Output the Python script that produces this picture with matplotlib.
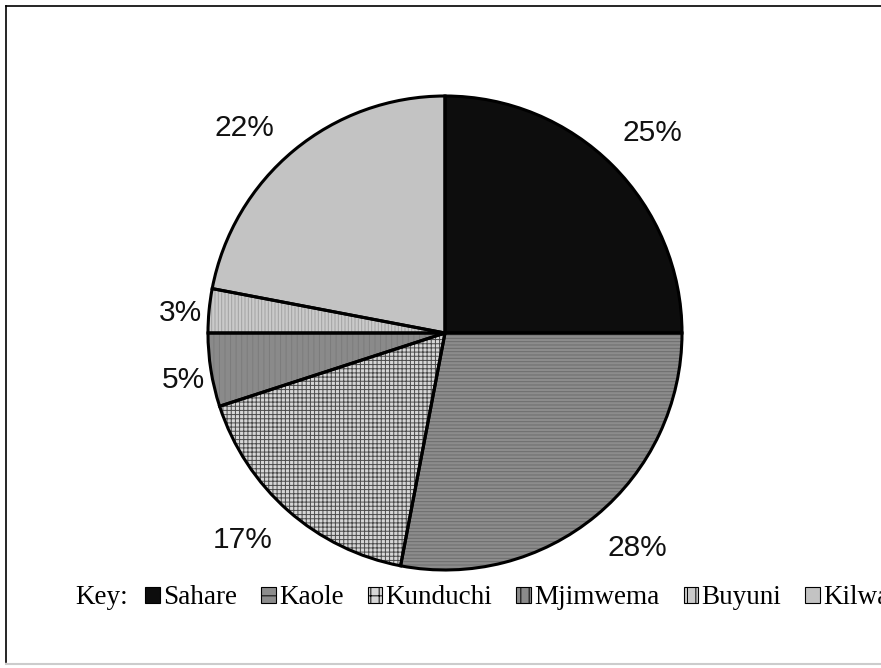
import matplotlib
matplotlib.use("Agg")
import matplotlib.pyplot as plt
from matplotlib.patches import Patch
from matplotlib.lines import Line2D
import numpy as np

categories = ["Sahare", "Kaole", "Kunduchi", "Mjimwema", "Buyuni", "Kilwa"]
values = [25, 28, 17, 5, 3, 22]
labels = ["25%", "28%", "17%", "5%", "3%", "22%"]

faces = ["#0d0d0d", "#8c8c8c", "#d6d6d6", "#8a8a8a", "#cacaca", "#c3c3c3"]
hatches = ["", "-----", "++++", "|||", "|||||", ""]
hatch_cols = ["#0d0d0d", "#6c6c6c", "#4a4a4a", "#7c7c7c", "#a2a2a2", "#c3c3c3"]
label_dist = [1.214, 1.216, 1.22, 1.12, 1.12, 1.21]
label_nudge_deg = [-1.0, 2.2, -3.0, 1.2, 1.1, 4.7]

W, H = 881, 668
fig = plt.figure(figsize=(W / 100, H / 100), dpi=100)
ax = fig.add_axes([0, 0, 1, 1])
plt.rcParams["hatch.linewidth"] = 0.7

cx, cy, R = 445, 335, 237

# filled + hatched layer (hatch colour comes from edgecolor, edge width 0)
wedges, _ = ax.pie(values, startangle=90, counterclock=False,
                   center=(cx, cy), radius=R, colors=faces,
                   wedgeprops=dict(linewidth=0))
for w, h, hc in zip(wedges, hatches, hatch_cols):
    w.set_hatch(h)
    w.set_edgecolor(hc)
    w.set_linewidth(0)

# outline layer
outl, _ = ax.pie(values, startangle=90, counterclock=False,
                 center=(cx, cy), radius=R,
                 wedgeprops=dict(fill=False, edgecolor="black", linewidth=2.2))

for w, lab, d, nd in zip(wedges, labels, label_dist, label_nudge_deg):
    th = np.deg2rad((w.theta1 + w.theta2) / 2 + nd)
    ax.text(cx + d * R * np.cos(th), cy + d * R * np.sin(th), lab,
            ha="center", va="center", fontsize=21.5,
            family="Liberation Sans", color="#111111")

ax.set_xlim(0, W)
ax.set_ylim(0, H)
ax.set_aspect("equal")
ax.axis("off")

# page border
fig.add_artist(Line2D([6 / W, 6 / W], [1 - 6 / H, 1 - 662 / H],
                      transform=fig.transFigure, color="black", lw=1.2))
fig.add_artist(Line2D([6 / W, 1], [1 - 6 / H, 1 - 6 / H],
                      transform=fig.transFigure, color="black", lw=1.2))
fig.add_artist(Line2D([6 / W, 1], [1 - 664 / H, 1 - 664 / H],
                      transform=fig.transFigure, color="#cccccc", lw=1.5))

# legend
fig.text(75 / W, 1 - 598 / H, "Key:", ha="left", va="center",
         fontsize=19.5, family="Liberation Serif")
handles = [Patch(facecolor=f, edgecolor="black", hatch=("" if h == "" else h[:2]),
                 linewidth=0.8)
           for f, h in zip(faces, hatches)]
fig.legend(handles, categories, loc="center left",
           bbox_to_anchor=(145 / W, 1 - 598 / H), ncol=6, frameon=False,
           borderpad=0, borderaxespad=0, handlelength=0.55, handleheight=0.55,
           handletextpad=0.12, columnspacing=0.88,
           prop=dict(family="Liberation Serif", size=19.5))

fig.savefig("out.png", dpi=100)
